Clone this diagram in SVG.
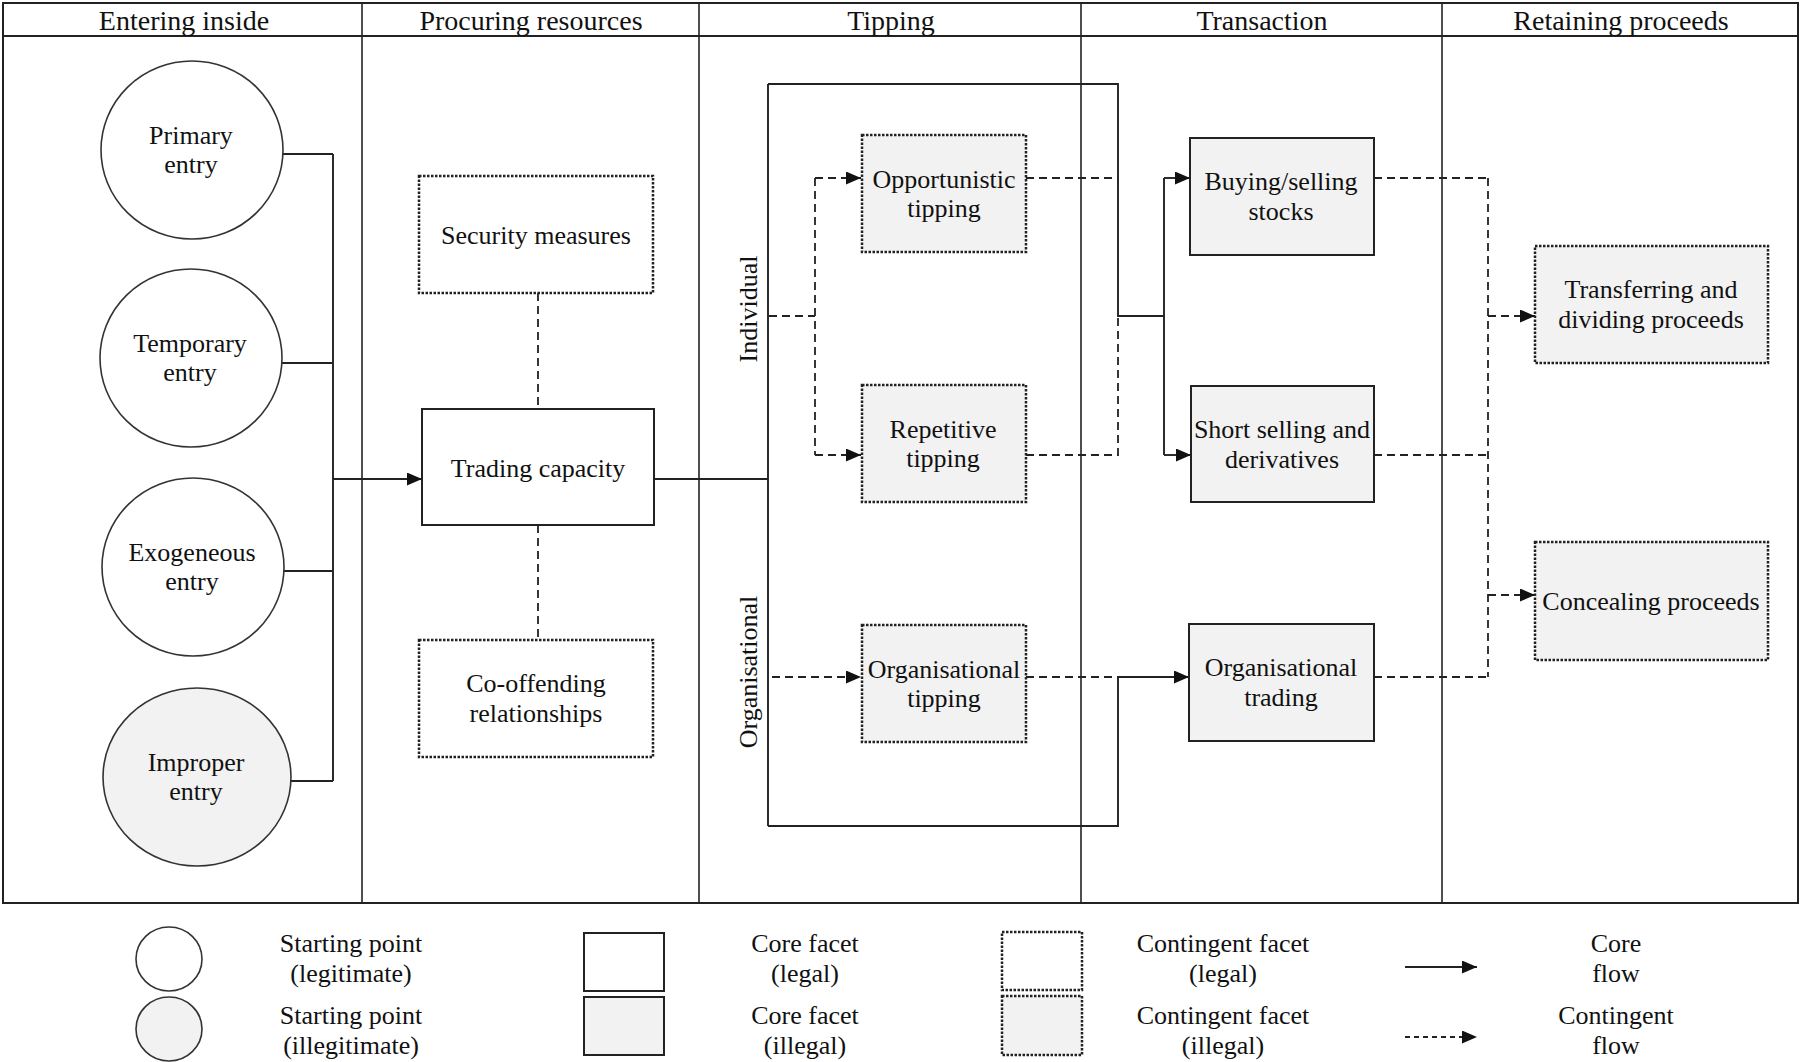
<svg xmlns="http://www.w3.org/2000/svg" width="1800" height="1062" viewBox="0 0 1800 1062">
  <style>
    text { font-family: "Liberation Serif", "Times New Roman", serif; font-size: 26px; fill: #111; text-anchor: middle; }
    .head { font-size: 28px; }
    .frame { fill: none; stroke: #222; stroke-width: 2; }
    .div { fill: none; stroke: #222; stroke-width: 1.6; }
    .start { fill: #fff; stroke: #333; stroke-width: 1.6; }
    .start-ill { fill: #f2f2f2; stroke: #333; stroke-width: 1.6; }
    .core { fill: #fff; stroke: #222; stroke-width: 2; }
    .core-ill { fill: #f2f2f2; stroke: #222; stroke-width: 2; }
    .cont { fill: #fff; stroke: #222; stroke-width: 2.5; stroke-dasharray: 2.5 1.5; }
    .cont-ill { fill: #f2f2f2; stroke: #222; stroke-width: 2.5; stroke-dasharray: 2.5 1.5; }
    .flow { fill: none; stroke: #222; stroke-width: 1.9; }
    .cflow { fill: none; stroke: #222; stroke-width: 1.8; stroke-dasharray: 8 5; }
    .cflow-s { fill: none; stroke: #222; stroke-width: 1.8; stroke-dasharray: 5 4; }
  </style>
  <defs>
    <marker id="arrow" markerUnits="userSpaceOnUse" markerWidth="16" markerHeight="14" refX="15" refY="6.5" orient="auto">
      <path d="M0,0 L15,6.5 L0,13 Z" fill="#111"/>
    </marker>
  </defs>

  <!-- swimlane frame -->
  <g id="lanes">
    <rect class="frame" x="3" y="3" width="1795" height="900"/>
    <line class="frame" x1="3" y1="36" x2="1798" y2="36"/>
    <line class="div" x1="362" y1="3" x2="362" y2="903"/>
    <line class="div" x1="699" y1="3" x2="699" y2="903"/>
    <line class="div" x1="1081" y1="3" x2="1081" y2="903"/>
    <line class="div" x1="1442" y1="3" x2="1442" y2="903"/>
    <text class="head" x="184" y="30">Entering inside</text>
    <text class="head" x="531" y="30">Procuring resources</text>
    <text class="head" x="891" y="30">Tipping</text>
    <text class="head" x="1262" y="30">Transaction</text>
    <text class="head" x="1621" y="30">Retaining proceeds</text>
    <text transform="translate(757,309) rotate(-90)">Individual</text>
    <text transform="translate(757,672) rotate(-90)">Organisational</text>
  </g>

  <!-- connectors -->
  <g id="connectors">
    <!-- entry points to trading capacity -->
    <path class="flow" d="M283,154 H333 M282,363 H333 M284,571 H333 M291,781 H333 M333,154 V781"/>
    <path class="flow" d="M333,479 H422" marker-end="url(#arrow)"/>
    <path class="cflow" d="M538,293 V409 M538,525 V640"/>
    <!-- trading capacity to the tipping bracket -->
    <path class="flow" d="M654,479 H768 M768,84 V826 M768,84 H1118 V316 H1164 M1164,178 V455"/>
    <path class="flow" d="M1164,178 H1190" marker-end="url(#arrow)"/>
    <path class="flow" d="M1164,455 H1191" marker-end="url(#arrow)"/>
    <path class="flow" d="M768,826 H1118 V677 H1189" marker-end="url(#arrow)"/>
    <!-- individual / organisational tipping -->
    <path class="cflow" d="M769,316 H815 M815,178 V455"/>
    <path class="cflow" d="M815,178 H861" marker-end="url(#arrow)"/>
    <path class="cflow" d="M815,455 H861" marker-end="url(#arrow)"/>
    <path class="cflow" d="M772,677 H861" marker-end="url(#arrow)"/>
    <path class="cflow" d="M1026,178 H1118 M1026,455 H1118 V316 M1026,677 H1118"/>
    <!-- transactions to retaining proceeds -->
    <path class="cflow" d="M1374,178 H1488 M1374,455 H1488 M1374,677 H1488 M1488,178 V677"/>
    <path class="cflow" d="M1488,316 H1535" marker-end="url(#arrow)"/>
    <path class="cflow" d="M1488,595 H1535" marker-end="url(#arrow)"/>
  </g>

  <!-- entering inside -->
  <g id="primary-entry">
    <ellipse class="start" cx="192" cy="150" rx="91" ry="89"/>
    <text x="191" y="144">Primary</text>
    <text x="191" y="173">entry</text>
  </g>
  <g id="temporary-entry">
    <ellipse class="start" cx="191" cy="358" rx="91" ry="89"/>
    <text x="190" y="352">Temporary</text>
    <text x="190" y="381">entry</text>
  </g>
  <g id="exogeneous-entry">
    <ellipse class="start" cx="193" cy="567" rx="91" ry="89"/>
    <text x="192" y="561">Exogeneous</text>
    <text x="192" y="590">entry</text>
  </g>
  <g id="improper-entry">
    <ellipse class="start-ill" cx="197" cy="777" rx="94" ry="89"/>
    <text x="196" y="771">Improper</text>
    <text x="196" y="800">entry</text>
  </g>

  <!-- procuring resources -->
  <g id="security-measures">
    <rect class="cont" x="419" y="176" width="234" height="117"/>
    <text x="536" y="244">Security measures</text>
  </g>
  <g id="trading-capacity">
    <rect class="core" x="422" y="409" width="232" height="116"/>
    <text x="538" y="477">Trading capacity</text>
  </g>
  <g id="co-offending">
    <rect class="cont" x="419" y="640" width="234" height="117"/>
    <text x="536" y="692">Co-offending</text>
    <text x="536" y="722">relationships</text>
  </g>

  <!-- tipping -->
  <g id="opportunistic-tipping">
    <rect class="cont-ill" x="862" y="135" width="164" height="117"/>
    <text x="944" y="188">Opportunistic</text>
    <text x="944" y="217">tipping</text>
  </g>
  <g id="repetitive-tipping">
    <rect class="cont-ill" x="862" y="385" width="164" height="117"/>
    <text x="943" y="438">Repetitive</text>
    <text x="943" y="467">tipping</text>
  </g>
  <g id="organisational-tipping">
    <rect class="cont-ill" x="862" y="625" width="164" height="117"/>
    <text x="944" y="678">Organisational</text>
    <text x="944" y="707">tipping</text>
  </g>

  <!-- transaction -->
  <g id="buying-selling">
    <rect class="core-ill" x="1190" y="138" width="184" height="117"/>
    <text x="1281" y="190">Buying/selling</text>
    <text x="1281" y="220">stocks</text>
  </g>
  <g id="short-selling">
    <rect class="core-ill" x="1191" y="386" width="183" height="116"/>
    <text x="1282" y="438">Short selling and</text>
    <text x="1282" y="468">derivatives</text>
  </g>
  <g id="organisational-trading">
    <rect class="core-ill" x="1189" y="624" width="185" height="117"/>
    <text x="1281" y="676">Organisational</text>
    <text x="1281" y="706">trading</text>
  </g>

  <!-- retaining proceeds -->
  <g id="transferring-proceeds">
    <rect class="cont-ill" x="1535" y="246" width="233" height="117"/>
    <text x="1651" y="298">Transferring and</text>
    <text x="1651" y="328">dividing proceeds</text>
  </g>
  <g id="concealing-proceeds">
    <rect class="cont-ill" x="1535" y="542" width="233" height="118"/>
    <text x="1651" y="610">Concealing proceeds</text>
  </g>

  <!-- legend -->
  <g id="legend">
    <ellipse class="start" cx="169" cy="959" rx="33" ry="32"/>
    <ellipse class="start-ill" cx="169" cy="1029" rx="33" ry="32"/>
    <text x="351" y="952">Starting point</text>
    <text x="351" y="982">(legitimate)</text>
    <text x="351" y="1024">Starting point</text>
    <text x="351" y="1054">(illegitimate)</text>

    <rect class="core" x="584" y="933" width="80" height="58"/>
    <rect class="core-ill" x="584" y="997" width="80" height="58"/>
    <text x="805" y="952">Core facet</text>
    <text x="805" y="982">(legal)</text>
    <text x="805" y="1024">Core facet</text>
    <text x="805" y="1054">(illegal)</text>

    <rect class="cont" x="1002" y="932" width="80" height="58"/>
    <rect class="cont-ill" x="1002" y="996" width="80" height="59"/>
    <text x="1223" y="952">Contingent facet</text>
    <text x="1223" y="982">(legal)</text>
    <text x="1223" y="1024">Contingent facet</text>
    <text x="1223" y="1054">(illegal)</text>

    <path class="flow" d="M1405,967 H1477" marker-end="url(#arrow)"/>
    <path class="cflow-s" d="M1405,1037 H1477" marker-end="url(#arrow)"/>
    <text x="1616" y="952">Core</text>
    <text x="1616" y="982">flow</text>
    <text x="1616" y="1024">Contingent</text>
    <text x="1616" y="1054">flow</text>
  </g>
</svg>
